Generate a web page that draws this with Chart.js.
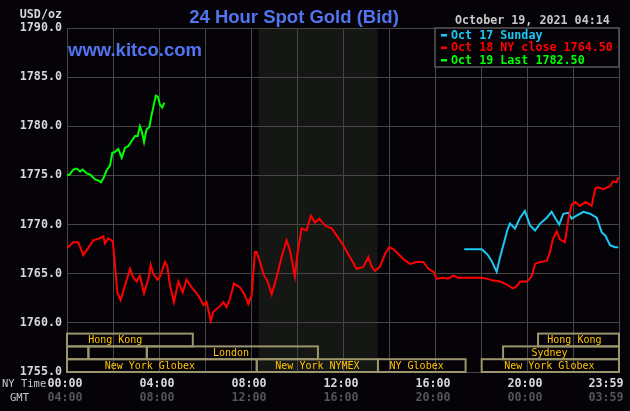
<!DOCTYPE html>
<html>
<head>
<meta charset="utf-8">
<title>24 Hour Spot Gold (Bid)</title>
<script src="https://cdn.jsdelivr.net/npm/chart.js@4.4.1/dist/chart.umd.min.js"></script>
<style>
  html, body { margin: 0; padding: 0; background: #050308; }
  #goldChart { display: block; }
</style>
</head>
<body>
<canvas id="goldChart" width="630" height="411"></canvas>
<script>
'use strict';

// Data. x values are NY time in hours.

// Oct 17 Sunday (cyan) - evening session only
const oct17Hours = [17.27, 18.03, 18.17, 18.3, 18.46, 18.68, 18.83, 18.97, 19.14, 19.26, 19.48, 19.7,
  19.91, 20.13, 20.35, 20.57, 20.86, 21.07, 21.22, 21.4, 21.58, 21.8, 21.94, 22.16, 22.45, 22.74,
  23.03, 23.25, 23.4, 23.61, 23.83, 23.97];
const oct17Prices = [1767.5, 1767.5, 1767.2, 1766.9, 1766.3, 1765.2, 1766.7, 1767.9, 1769.4, 1770.1, 1769.6, 1770.7,
  1771.4, 1769.9, 1769.4, 1770.1, 1770.7, 1771.3, 1770.7, 1770.0, 1771.1, 1771.2, 1770.6, 1770.9, 1771.3, 1771.1,
  1770.7, 1769.2, 1768.9, 1767.9, 1767.7, 1767.7];

// Oct 18 NY close (red) - full day
const oct18Hours = [0, 0.27, 0.49, 0.71, 0.86, 1.14, 1.43, 1.58, 1.65, 1.8, 1.99, 2.09, 2.19, 2.33, 2.52,
  2.74, 2.88, 3.03, 3.17, 3.35, 3.54, 3.64, 3.75, 3.93, 4.04, 4.26, 4.36, 4.48, 4.65, 4.84, 5.03, 5.2,
  5.42, 5.64, 5.78, 5.93, 6.07, 6.25, 6.36, 6.65, 6.8, 6.94, 7.09, 7.26, 7.52, 7.74, 7.88, 8.03, 8.17,
  8.25, 8.39, 8.57, 8.71, 8.9, 9.12, 9.33, 9.55, 9.69, 9.91, 10.01, 10.2, 10.42, 10.6, 10.78, 10.97,
  11.22, 11.51, 11.72, 12.01, 12.3, 12.59, 12.88, 13.1, 13.25, 13.39, 13.6, 13.83, 14.01, 14.19, 14.41,
  14.62, 14.91, 15.2, 15.49, 15.71, 15.93, 16.07, 16.36, 16.57, 16.8, 17.01, 18.03, 18.25, 18.54, 18.83,
  19.12, 19.38, 19.55, 19.7, 19.99, 20.2, 20.35, 20.57, 20.86, 21.0, 21.12, 21.29, 21.43, 21.65, 21.8,
  21.94, 22.1, 22.3, 22.55, 22.81, 22.96, 23.05, 23.32, 23.61, 23.75, 23.88, 23.98];
const oct18Prices = [1767.6, 1768.2, 1768.2, 1766.9, 1767.4, 1768.4, 1768.6, 1768.8, 1768.1, 1768.6, 1768.3, 1765.8, 1763.1, 1762.3, 1763.8,
  1765.5, 1764.6, 1764.2, 1764.8, 1763.0, 1764.5, 1765.9, 1765.0, 1764.4, 1764.7, 1766.2, 1765.8, 1763.8, 1762.1, 1764.2, 1763.1, 1764.4,
  1763.6, 1763.0, 1762.5, 1761.8, 1762.1, 1760.2, 1761.1, 1761.7, 1762.1, 1761.6, 1762.5, 1764.0, 1763.6, 1762.8, 1761.9, 1762.8, 1767.2,
  1767.2, 1766.2, 1764.8, 1764.3, 1762.9, 1764.7, 1766.7, 1768.4, 1767.4, 1764.7, 1766.9, 1769.6, 1769.4, 1770.9, 1770.2, 1770.6,
  1769.9, 1769.6, 1768.9, 1767.9, 1766.7, 1765.5, 1765.7, 1766.7, 1765.7, 1765.3, 1765.7, 1767.0, 1767.7, 1767.5, 1767.0,
  1766.5, 1766.0, 1766.2, 1766.2, 1765.5, 1765.2, 1764.5, 1764.6, 1764.5, 1764.8, 1764.6, 1764.6, 1764.5, 1764.3, 1764.2,
  1763.9, 1763.5, 1763.7, 1764.2, 1764.2, 1764.7, 1766.0, 1766.2, 1766.3, 1767.2, 1768.5, 1769.3, 1768.5, 1768.2, 1770.6,
  1772.0, 1772.3, 1771.9, 1772.3, 1771.9, 1773.6, 1773.8, 1773.6, 1773.9, 1774.4, 1774.3, 1774.8];

// Oct 19 Last (green) - up to 04:14
const oct19Hours = [0, 0.12, 0.27, 0.42, 0.57, 0.68, 0.86, 1.0, 1.22, 1.35, 1.48, 1.58, 1.72, 1.87, 1.97,
  2.09, 2.23, 2.38, 2.52, 2.67, 2.81, 2.96, 3.07, 3.17, 3.25, 3.35, 3.46, 3.58, 3.68, 3.75, 3.86, 3.95,
  4.04, 4.14, 4.23];
const oct19Prices = [1775.0, 1775.1, 1775.6, 1775.7, 1775.4, 1775.6, 1775.2, 1775.1, 1774.6, 1774.5, 1774.3, 1774.7, 1775.5, 1776.0, 1777.3,
  1777.4, 1777.7, 1776.8, 1777.8, 1778.0, 1778.5, 1779.0, 1779.0, 1780.0, 1779.5, 1778.4, 1779.7, 1779.9, 1781.2, 1781.9, 1783.1, 1783.0,
  1782.2, 1781.9, 1782.4];

const legendLabels = ['Oct 17 Sunday', 'Oct 18 NY close 1764.50', 'Oct 19 Last 1782.50'];

// Time axis labels (NY time on top row, GMT below)
const timeTickHours = [0, 4, 8, 12, 16, 20, 24];
const nyTimeLabels = ['00:00', '04:00', '08:00', '12:00', '16:00', '20:00', '23:59'];
const gmtLabels = ['04:00', '08:00', '12:00', '16:00', '20:00', '00:00', '03:59'];

// Price axis
const priceMin = 1755;
const priceMax = 1790;
const priceStep = 5;

// COMEX pit hours get the darker shade
const comexStart = 8 + 20 / 60;
const comexEnd = 13.5;

// Market sessions drawn along the bottom (row 0 = top row)
const sessionNames = ['Hong Kong', '', '', 'London', 'New York Globex', 'New York NYMEX', 'NY Globex',
  'New York Globex', 'Sydney', 'Hong Kong'];
const sessionStarts = [0, 0, 0.93, 3.47, 0, 8.25, 13.52, 18.03, 18.96, 20.48];
const sessionEnds = [5.47, 0.93, 3.47, 10.91, 8.25, 13.52, 17.33, 24, 24, 24];
const sessionRows = [0, 1, 1, 1, 2, 2, 2, 2, 1, 0];
const sessionLabelAt = [2.1, 0, 0, 7.13, 3.6, 10.89, 15.2, 20.97, 20.98, 22.06];

const monoFont = 'DejaVu Sans Mono';
const labelGray = '#d8d8d8';
const gridGray = '#464646';
const kitcoBlue = '#5274f0';

function toPoints(hours, prices) {
  return hours.map((h, i) => ({ x: h, y: prices[i] }));
}

// Background, shaded COMEX hours, session boxes, legend and all the loose text.
const kitcoDecor = {
  id: 'kitcoDecor',
  beforeDraw(chart) {
    const ctx = chart.ctx;
    const area = chart.chartArea;
    const x = chart.scales.x;
    ctx.save();
    ctx.fillStyle = '#050308';
    ctx.fillRect(0, 0, chart.width, chart.height);
    ctx.fillStyle = '#141714';
    const x0 = x.getPixelForValue(comexStart);
    const x1 = x.getPixelForValue(comexEnd);
    ctx.fillRect(x0, area.top, x1 - x0, area.bottom - area.top);
    ctx.restore();
  },
  afterDatasetsDraw(chart) {
    const ctx = chart.ctx;
    const area = chart.chartArea;
    const x = chart.scales.x;
    ctx.save();

    // session boxes
    const rowH = 12.8;
    ctx.lineWidth = 2;
    ctx.strokeStyle = '#9a956c';
    ctx.fillStyle = '#ffc400';
    ctx.font = '10px "' + monoFont + '"';
    ctx.textAlign = 'center';
    ctx.textBaseline = 'middle';
    sessionNames.forEach((name, i) => {
      const left = x.getPixelForValue(sessionStarts[i]);
      const right = x.getPixelForValue(sessionEnds[i]);
      const top = area.bottom - (3 - sessionRows[i]) * rowH;
      ctx.strokeRect(left, top, right - left, rowH);
      if (name) {
        ctx.fillText(name, x.getPixelForValue(sessionLabelAt[i]), top + rowH / 2 + 0.5);
      }
    });

    // legend box in the top right corner
    const lx = x.getPixelForValue(16);
    const lTop = area.top;
    ctx.fillStyle = '#050308';
    ctx.fillRect(lx, lTop, area.right - lx, 39);
    ctx.strokeStyle = '#5a5a5a';
    ctx.lineWidth = 1.5;
    ctx.strokeRect(lx, lTop, area.right - lx, 39);
    ctx.font = 'bold 11.7px "' + monoFont + '"';
    ctx.textAlign = 'left';
    chart.data.datasets.forEach((ds, i) => {
      const y = lTop + 7 + i * 12.5;
      ctx.fillStyle = ds.borderColor;
      ctx.fillRect(lx + 6, y - 1, 6, 2.5);
      ctx.fillText(legendLabels[i], lx + 16, y + 0.5);
    });

    // time labels under the plot
    ctx.textAlign = 'center';
    timeTickHours.forEach((h, i) => {
      let px = x.getPixelForValue(h) - 2;
      if (i === timeTickHours.length - 1) {
        px -= 11;
      }
      ctx.fillStyle = labelGray;
      ctx.fillText(nyTimeLabels[i], px, area.bottom + 11.5);
      ctx.fillStyle = '#555555';
      ctx.fillText(gmtLabels[i], px, area.bottom + 26);
    });
    ctx.font = '10.5px "' + monoFont + '"';
    ctx.fillStyle = '#c8c8c8';
    ctx.textAlign = 'left';
    ctx.fillText('NY Time', 2, area.bottom + 12);
    ctx.fillText('GMT', 10, area.bottom + 26);

    // headings
    ctx.font = 'bold 11.7px "' + monoFont + '"';
    ctx.fillStyle = labelGray;
    ctx.textAlign = 'right';
    ctx.fillText('USD/oz', 62, 15);
    ctx.fillStyle = '#c8c8c8';
    ctx.textAlign = 'left';
    ctx.fillText('October 19, 2021 04:14', 455, 21);

    ctx.fillStyle = kitcoBlue;
    ctx.textBaseline = 'alphabetic';
    ctx.font = 'bold 18.5px "Liberation Sans"';
    ctx.textAlign = 'center';
    ctx.fillText('24 Hour Spot Gold (Bid)', 294, 23);
    ctx.textAlign = 'left';
    ctx.fillText('www.kitco.com', 68, 56);
    ctx.restore();
  }
};

const chart = new Chart(document.getElementById('goldChart'), {
  type: 'line',
  data: {
    datasets: [
      { label: legendLabels[0], data: toPoints(oct17Hours, oct17Prices), borderColor: '#1ec8f5', order: 3 },
      { label: legendLabels[1], data: toPoints(oct18Hours, oct18Prices), borderColor: '#ff0000', order: 2 },
      { label: legendLabels[2], data: toPoints(oct19Hours, oct19Prices), borderColor: '#00ff00', order: 1 }
    ]
  },
  options: {
    responsive: false,
    animation: false,
    elements: {
      line: { borderWidth: 2, tension: 0 },
      point: { radius: 0 }
    },
    layout: { padding: { top: 28, right: 11, bottom: 39, left: 0 } },
    plugins: {
      legend: { display: false },
      title: { display: false },
      tooltip: { enabled: false }
    },
    scales: {
      x: {
        type: 'linear',
        min: 0,
        max: 24,
        ticks: { display: false, stepSize: 2 },
        grid: { color: gridGray, drawTicks: false },
        border: { display: false },
        afterFit(scale) { scale.height = 0; }
      },
      y: {
        min: priceMin,
        max: priceMax,
        ticks: {
          stepSize: priceStep,
          padding: 5,
          color: labelGray,
          font: { family: monoFont, size: 11.7, weight: 'bold' },
          callback: v => v.toFixed(1)
        },
        grid: { color: gridGray, drawTicks: false },
        border: { display: false },
        afterFit(scale) { scale.width = 67; }
      }
    }
  },
  plugins: [kitcoDecor]
});
</script>
</body>
</html>
